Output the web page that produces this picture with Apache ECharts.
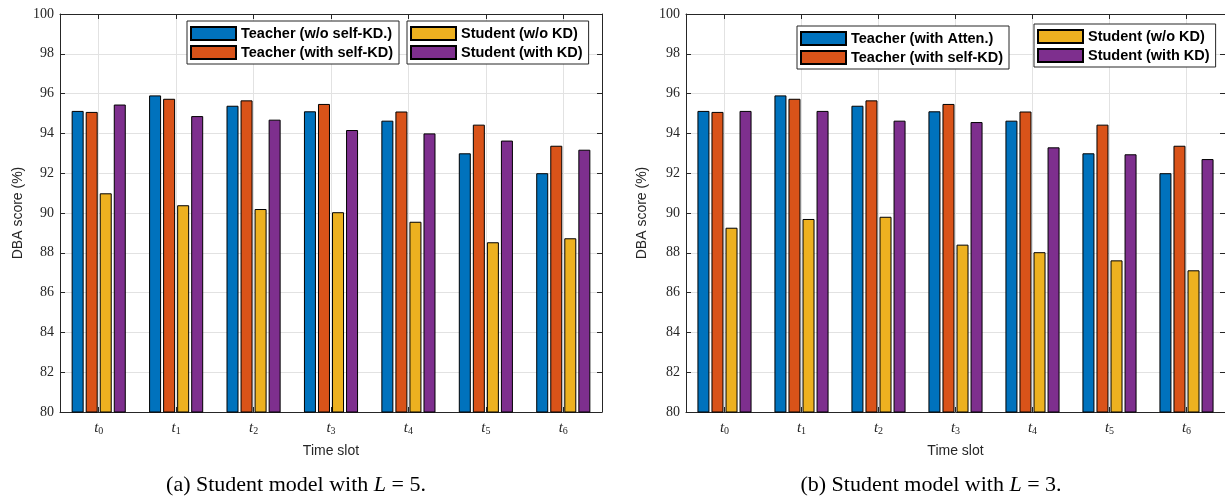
<!DOCTYPE html>
<html>
<head>
<meta charset="utf-8">
<script src="https://cdn.jsdelivr.net/npm/echarts@6/dist/echarts.min.js"></script>
<style>
html,body{margin:0;padding:0;background:#fff;}
#c{width:1225px;height:498px;}
</style>
</head>
<body>
<div id="c"></div>
<script>
// ---- data ----
const categories = ['t0', 't1', 't2', 't3', 't4', 't5', 't6'];
const yTicks = [80, 82, 84, 86, 88, 90, 92, 94, 96, 98, 100];

// (a) Student model with L = 5
const aTeacherNoSelfKD = [95.13, 95.91, 95.39, 95.11, 94.64, 93.00, 92.00];
const aTeacherSelfKD   = [95.08, 95.74, 95.66, 95.48, 95.10, 94.44, 93.38];
const aStudentNoKD     = [90.99, 90.39, 90.20, 90.04, 89.56, 88.53, 88.73];
const aStudentKD       = [95.45, 94.87, 94.69, 94.17, 94.00, 93.64, 93.18];

// (b) Student model with L = 3
const bTeacherAtten    = [95.13, 95.91, 95.39, 95.11, 94.64, 93.00, 92.00];
const bTeacherSelfKD   = [95.08, 95.74, 95.66, 95.48, 95.10, 94.44, 93.38];
const bStudentNoKD     = [89.26, 89.70, 89.81, 88.41, 88.03, 87.62, 87.12];
const bStudentKD       = [95.13, 95.13, 94.64, 94.57, 93.30, 92.95, 92.71];

const names = {
  tNo: 'Teacher (w/o self-KD.)',
  tAtt: 'Teacher (with Atten.)',
  tSelf: 'Teacher (with self-KD)',
  sNo: 'Student (w/o KD)',
  sKD: 'Student (with KD)'
};
const colors = ['#0072BD', '#D95319', '#EDB120', '#7E2F8E'];

// ---- chart ----
const axisColor = '#262626';
const gridColor = '#e2e2e2';
const serif = '"Liberation Serif", "Times New Roman", serif';
const sans = '"Liberation Sans", Arial, Helvetica, sans-serif';

function bottomX(gi) {
  return {
    type: 'category', gridIndex: gi, data: categories, position: 'bottom',
    boundaryGap: true,
    axisLine: { show: true, lineStyle: { color: axisColor, width: 1 } },
    axisTick: { show: true, inside: true, length: 5, alignWithLabel: true, interval: 0, lineStyle: { color: axisColor } },
    splitLine: { show: true, alignWithLabel: true, interval: 0, lineStyle: { color: gridColor, width: 1 } },
    axisLabel: {
      interval: 0, margin: 6,
      formatter: v => '{i|' + v.charAt(0) + '}{s|' + v.slice(1) + '}',
      rich: {
        i: { fontFamily: serif, fontStyle: 'italic', fontSize: 15, color: axisColor, lineHeight: 18, verticalAlign: 'bottom' },
        s: { fontFamily: serif, fontSize: 10, color: axisColor, lineHeight: 18, verticalAlign: 'bottom', padding: [6, 0, 0, 0] }
      }
    },
    name: 'Time slot', nameLocation: 'middle', nameGap: 32,
    nameTextStyle: { fontFamily: sans, fontSize: 14, color: axisColor }
  };
}
function topX(gi) {
  return {
    type: 'category', gridIndex: gi, data: categories, position: 'top',
    axisLine: { show: true, lineStyle: { color: axisColor, width: 1 } },
    axisTick: { show: true, inside: true, length: 5, alignWithLabel: true, interval: 0, lineStyle: { color: axisColor } },
    axisLabel: { show: false }, splitLine: { show: false }
  };
}
function leftY(gi, gap) {
  return {
    type: 'value', gridIndex: gi, position: 'left', min: 80, max: 100, interval: 2,
    axisLine: { show: true, lineStyle: { color: axisColor, width: 1 } },
    axisTick: { show: true, inside: true, length: 5, lineStyle: { color: axisColor } },
    splitLine: { show: true, lineStyle: { color: gridColor, width: 1 } },
    axisLabel: { fontFamily: serif, fontSize: 14, color: axisColor, margin: 6,
      formatter: v => (yTicks.indexOf(v) >= 0 ? String(v) : '') },
    name: 'DBA score (%)', nameLocation: 'middle', nameGap: gap,
    nameTextStyle: { fontFamily: sans, fontSize: 14, color: axisColor }
  };
}
function rightY(gi) {
  return {
    type: 'value', gridIndex: gi, position: 'right', min: 80, max: 100, interval: 2,
    axisLine: { show: true, lineStyle: { color: axisColor, width: 1 } },
    axisTick: { show: true, inside: true, length: 5, lineStyle: { color: axisColor } },
    splitLine: { show: false }, axisLabel: { show: false }
  };
}
function bar(name, data, color, gi) {
  return {
    type: 'bar', name: name, data: data, xAxisIndex: gi * 2, yAxisIndex: gi * 2,
    barWidth: 12, barGap: '17%',
    itemStyle: { color: color, borderColor: '#000', borderWidth: 1 },
    emphasis: { disabled: true }, animation: false
  };
}
function legend(data, left, top) {
  return {
    data: data, left: left, top: top, orient: 'vertical',
    itemWidth: 45, itemHeight: 13, itemGap: 4,
    padding: [5, 6, 4, 3],
    backgroundColor: '#fff', borderColor: axisColor, borderWidth: 1,
    icon: 'rect', selectedMode: false,
    textStyle: { fontFamily: sans, fontWeight: 'bold', fontSize: 14.5, color: '#000', lineHeight: 14 }
  };
}
function caption(text, x) {
  return {
    type: 'text', x: x, y: 485,
    style: {
      text: text,
      fontFamily: serif, fontSize: 22, fill: '#000', align: 'center', verticalAlign: 'middle',
      rich: { i: { fontFamily: serif, fontStyle: 'italic', fontSize: 22, fill: '#000' } }
    }
  };
}

const chart = echarts.init(document.getElementById('c'), null, { renderer: 'canvas' });
chart.setOption({
  animation: false,
  backgroundColor: '#fff',
  grid: [
    { left: 60, top: 14, width: 542, height: 398 },
    { left: 686, top: 14, width: 541, height: 398 }
  ],
  xAxis: [bottomX(0), topX(0), bottomX(1), topX(1)],
  yAxis: [leftY(0, 35), rightY(0), leftY(1, 37), rightY(1)],
  legend: [
    legend([names.tNo, names.tSelf], 187, 21),
    legend([names.sNo, names.sKD], 407, 21),
    legend([names.tAtt, names.tSelf], 797, 26),
    legend([names.sNo, names.sKD], 1034, 24)
  ],
  series: [
    bar(names.tNo, aTeacherNoSelfKD, colors[0], 0),
    bar(names.tSelf, aTeacherSelfKD, colors[1], 0),
    bar(names.sNo, aStudentNoKD, colors[2], 0),
    bar(names.sKD, aStudentKD, colors[3], 0),
    bar(names.tAtt, bTeacherAtten, colors[0], 1),
    bar(names.tSelf, bTeacherSelfKD, colors[1], 1),
    bar(names.sNo, bStudentNoKD, colors[2], 1),
    bar(names.sKD, bStudentKD, colors[3], 1)
  ],
  graphic: [
    caption('(a) Student model with {i|L} = 5.', 296),
    caption('(b) Student model with {i|L} = 3.', 931)
  ]
});
</script>
</body>
</html>
